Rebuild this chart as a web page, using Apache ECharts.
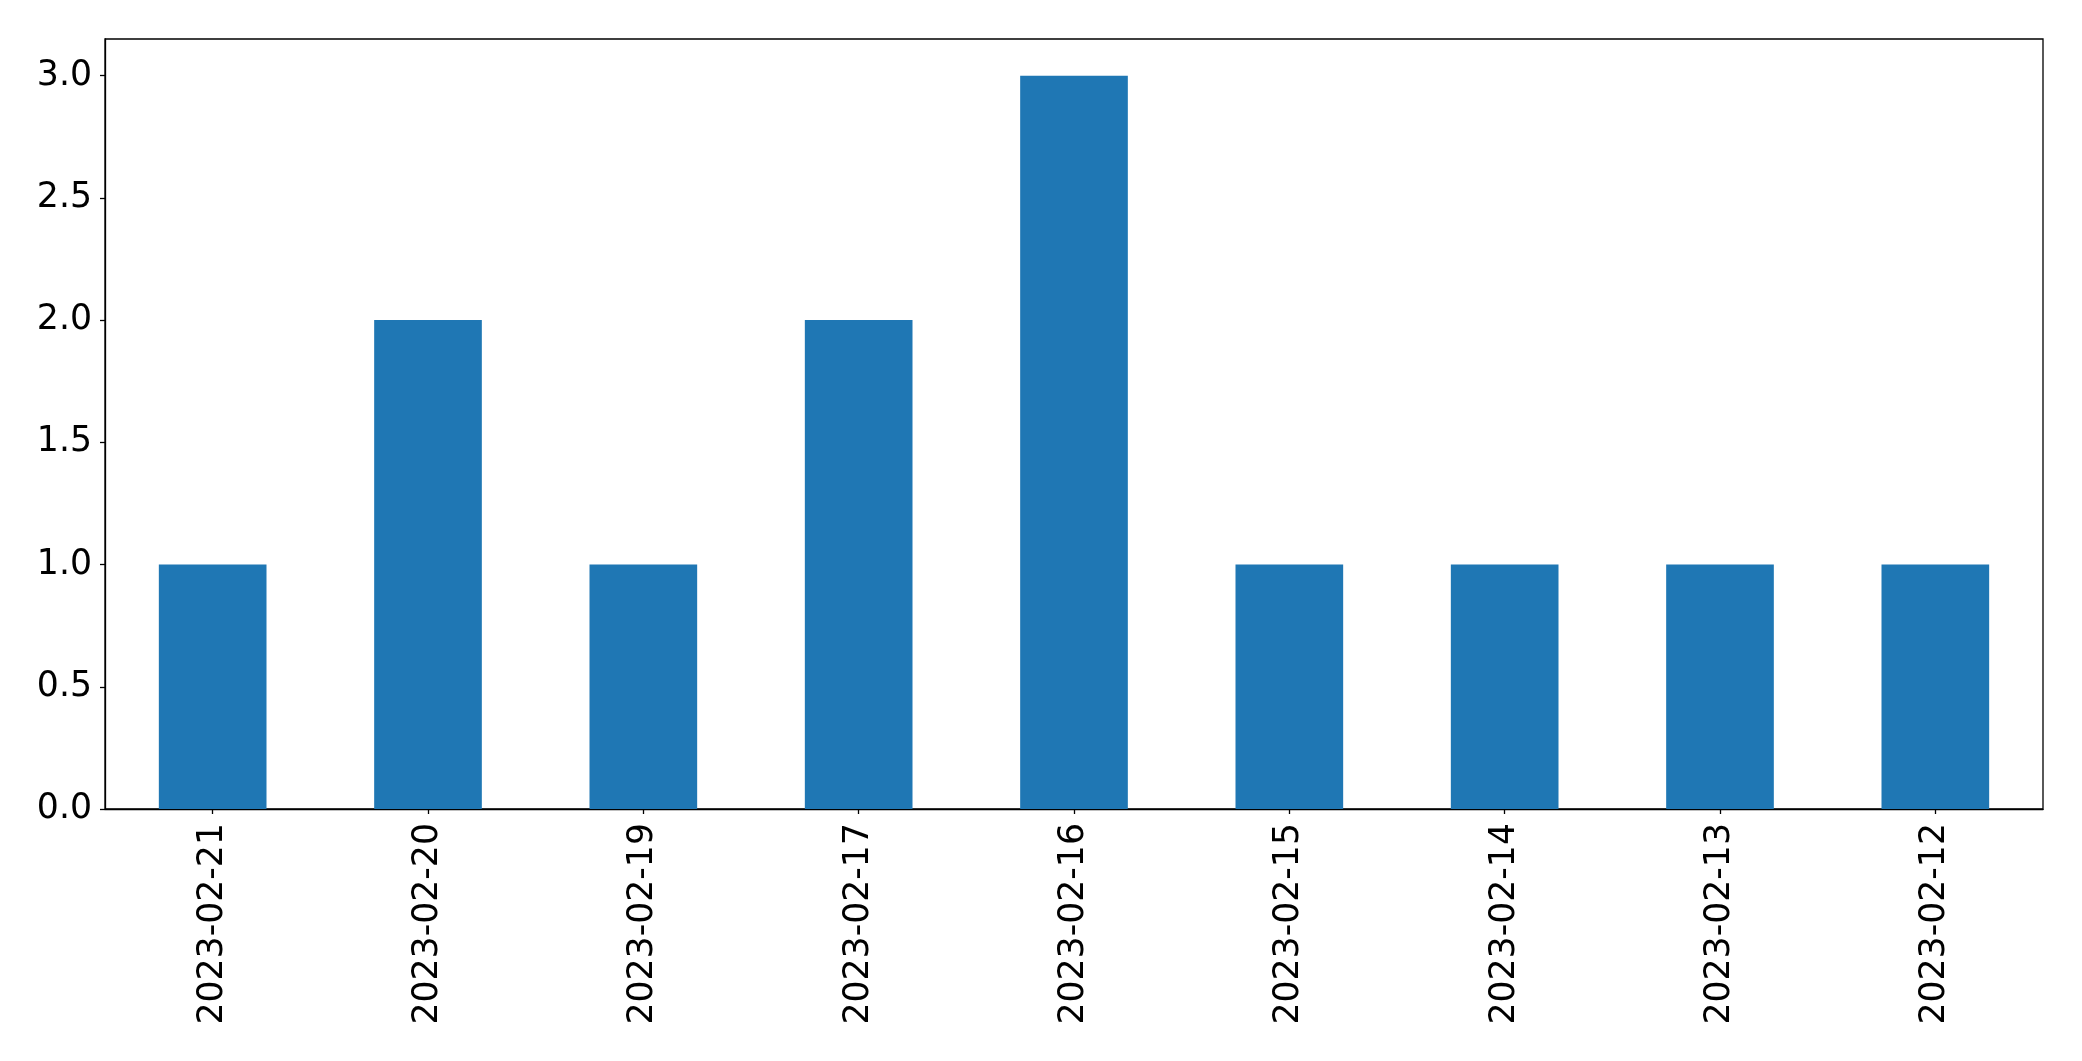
<!DOCTYPE html>
<html>
<head>
<meta charset="utf-8">
<script src="https://cdn.jsdelivr.net/npm/echarts@6/dist/echarts.min.js"></script>
<style>html,body{margin:0;padding:0;background:#fff}#c{width:2082px;height:1061px}</style>
</head>
<body>
<div id="c"></div>
<script>
const categories = ['2023-02-21','2023-02-20','2023-02-19','2023-02-17','2023-02-16','2023-02-15','2023-02-14','2023-02-13','2023-02-12'];
const values = [1, 2, 1, 2, 3, 1, 1, 1, 1];
const yTicks = [0, 0.5, 1, 1.5, 2, 2.5, 3];

const chart = echarts.init(document.getElementById('c'), null, {renderer: 'canvas'});
const font = 'DejaVu Sans';
chart.setOption({
  animation: false,
  backgroundColor: '#fff',
  grid: {left: 105, top: 39, right: 39, bottom: 252, show: true, borderColor: '#000', borderWidth: 1.3, backgroundColor: 'transparent'},
  xAxis: {
    type: 'category',
    data: categories,
    boundaryGap: true,
    axisLine: {show: true, lineStyle: {color: '#000', width: 1.3}},
    axisTick: {show: true, alignWithLabel: true, length: 5, lineStyle: {color: '#000', width: 1.3}},
    axisLabel: {rotate: 90, margin: 14, color: '#000', fontFamily: font, fontSize: 34.7, interval: 0}
  },
  yAxis: {
    type: 'value',
    min: 0,
    max: 3.15,
    interval: 0.5,
    splitLine: {show: false},
    axisLine: {show: true, lineStyle: {color: '#000', width: 1.3}},
    axisTick: {show: true, length: 5, lineStyle: {color: '#000', width: 1.3}},
    axisLabel: {
      margin: 13, color: '#000', fontFamily: font, fontSize: 34.7,
      showMaxLabel: false,
      formatter: v => yTicks.some(t => Math.abs(t - v) < 1e-9) ? v.toFixed(1) : ''
    }
  },
  series: [{
    type: 'bar',
    data: values,
    barWidth: '50%',
    itemStyle: {color: '#1f77b4'}
  }]
});
</script>
</body>
</html>
